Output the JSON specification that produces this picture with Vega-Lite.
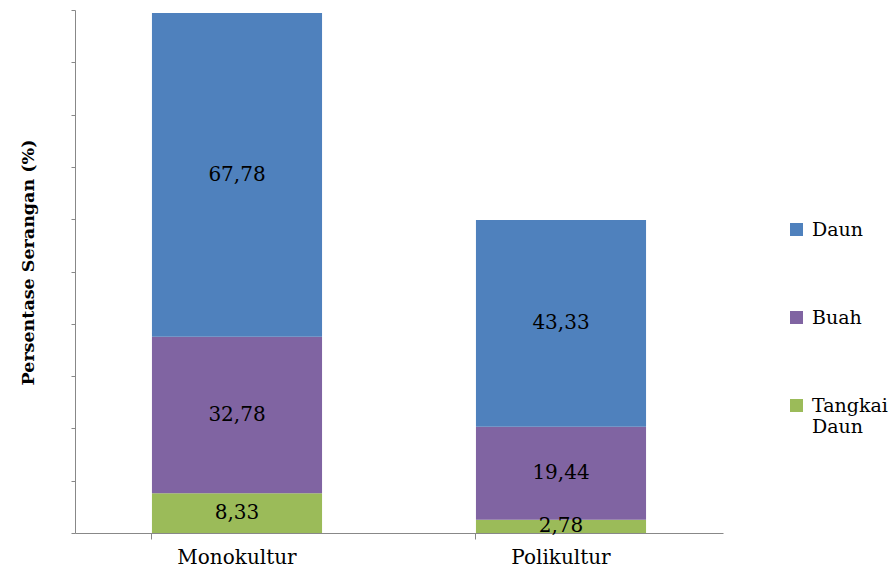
{
  "$schema": "https://vega.github.io/schema/vega-lite/v6.json",
  "width": 648,
  "height": 523,
  "autosize": {"type": "none"},
  "padding": {"left": 75, "top": 10, "right": 173, "bottom": 38},
  "background": "white",
  "config": {
    "view": {"stroke": null},
    "font": "DejaVu Serif",
    "locale": {"number": {"decimal": ",", "thousands": ".", "grouping": [3], "currency": ["", ""]}}
  },
  "data": {
    "values": [
      {"kultur": "Monokultur", "bagian": "Tangkai Daun", "nilai": 8.33},
      {"kultur": "Monokultur", "bagian": "Buah", "nilai": 32.78},
      {"kultur": "Monokultur", "bagian": "Daun", "nilai": 67.78},
      {"kultur": "Polikultur", "bagian": "Tangkai Daun", "nilai": 2.78},
      {"kultur": "Polikultur", "bagian": "Buah", "nilai": 19.44},
      {"kultur": "Polikultur", "bagian": "Daun", "nilai": 43.33}
    ]
  },
  "transform": [
    {"stack": "nilai", "groupby": ["kultur"], "as": ["lo", "hi"]}
  ],
  "encoding": {
    "x": {
      "field": "kultur",
      "type": "nominal",
      "sort": null,
      "scale": {"paddingInner": 0.475, "paddingOuter": 0.2375},
      "axis": {
        "title": null,
        "labelAngle": 0,
        "labelFont": "DejaVu Serif",
        "labelFontSize": 20,
        "labelColor": "black",
        "labelPadding": 8,
        "bandPosition": 0,
        "tickSize": 6,
        "tickColor": "#888888",
        "domainColor": "#888888",
        "grid": false
      }
    }
  },
  "layer": [
    {
      "mark": {"type": "bar"},
      "encoding": {
        "y": {
          "field": "lo",
          "type": "quantitative",
          "scale": {"domain": [0, 109.5], "nice": false},
          "axis": {
            "title": "Persentase Serangan (%)",
            "titleFont": "DejaVu Serif",
            "titleFontSize": 17.5,
            "titleFontWeight": "bold",
            "titleColor": "black",
            "titleX": -47,
            "titleY": 252,
            "titleAlign": "center",
            "titleBaseline": "middle",
            "labels": false,
            "values": [0, 10.95, 21.9, 32.85, 43.8, 54.75, 65.7, 76.65, 87.6, 98.55, 109.5],
            "tickSize": 4,
            "tickColor": "#888888",
            "domainColor": "#888888",
            "grid": false
          }
        },
        "y2": {"field": "hi"},
        "color": {
          "field": "bagian",
          "type": "nominal",
          "scale": {
            "domain": ["Daun", "Buah", "Tangkai Daun"],
            "range": ["#4F81BD", "#8064A2", "#9BBB59"]
          },
          "legend": {
            "title": null,
            "orient": "none",
            "legendX": 712,
            "legendY": 210,
            "symbolType": "square",
            "symbolSize": 169,
            "symbolStrokeWidth": 0,
            "labelFont": "DejaVu Serif",
            "labelFontSize": 19,
            "labelColor": "black",
            "labelOffset": 6,
            "rowPadding": 68,
            "labelLimit": 200,
            "labelExpr": "datum.label == 'Tangkai Daun' ? ['Tangkai', 'Daun'] : datum.label"
          }
        }
      }
    },
    {
      "transform": [
        {"fold": ["lo", "hi"], "as": ["ujung", "pos"]}
      ],
      "mark": {"type": "text", "font": "DejaVu Serif", "fontSize": 20, "color": "black", "baseline": "middle"},
      "encoding": {
        "y": {"aggregate": "mean", "field": "pos", "type": "quantitative"},
        "text": {"field": "nilai", "type": "quantitative", "format": ".2f"},
        "detail": {"field": "bagian", "type": "nominal"}
      }
    }
  ]
}
